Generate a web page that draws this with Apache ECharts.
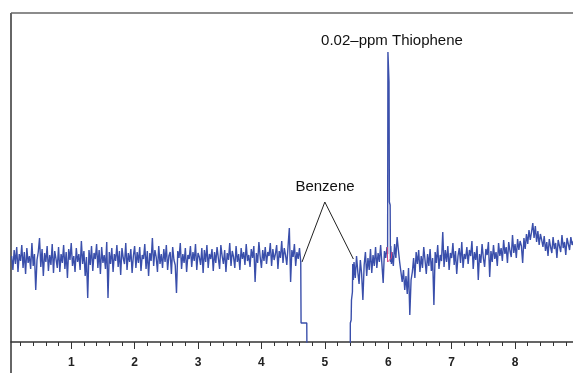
<!DOCTYPE html>
<html>
<head>
<meta charset="utf-8">
<script src="https://cdn.jsdelivr.net/npm/echarts@6/dist/echarts.min.js"></script>
<style>
  html, body { margin: 0; padding: 0; background: #fff; }
  #chart { width: 573px; height: 373px; }
</style>
</head>
<body>
<div id="chart"></div>
<script>
// retention time axis (min), detector response in arbitrary units
var sampleStep = 0.02;

// baseline before benzene, starts at 0.06 min
var baselineAStart = 0.06;
var baselineA = [
  86, 72, 92, 78, 95, 70, 88, 81, 97, 74, 90, 68, 94, 79, 86, 73, 99, 76, 88, 52,
  82, 90, 104, 75, 93, 66, 89, 80, 96, 71, 87, 77, 98, 69, 91, 83, 74, 95, 70, 88,
  79, 97, 73, 90, 64, 93, 82, 99, 76, 86, 70, 94, 80, 88, 72, 101, 78, 91, 66, 85,
  44, 92, 77, 96, 71, 89, 83, 98, 74, 92, 68, 95, 79, 87, 73, 100, 44, 90, 78, 94,
  70, 88, 81, 97, 75, 91, 67, 94, 84, 78, 99, 72, 89, 80, 93, 69, 86, 96, 74, 90,
  79, 95, 71, 87, 83, 98, 73, 91, 66, 89, 81, 104, 76, 92, 85, 70, 96, 78, 88, 74,
  93, 80, 97, 72, 86, 90, 68, 95, 82, 77, 49, 91, 84, 99, 73, 88, 79, 94, 70, 87,
  83, 96, 75, 90, 81, 98, 72, 89, 85, 77, 94, 69, 92, 80, 97, 74, 88, 83, 93, 71,
  90, 79, 95, 84, 73, 97, 86, 78, 92, 70, 89, 82, 99, 76, 91, 85, 74, 96, 80, 88,
  72, 94, 83, 90, 77, 98, 81, 87, 75, 93, 84, 96, 60, 89, 79, 100, 85, 74, 92, 81,
  95, 78, 90, 86, 99, 76, 93, 82, 88, 97, 73, 91, 84, 101, 79, 94, 87, 77, 96, 114,
  60, 92, 85, 98, 76, 90, 83, 94, 80
];

// negative benzene response (goes off scale), [time, response]
var benzeneDip = [
  [4.625, 19], [4.715, 19], [4.72, -40], [5.40, -40], [5.402, 19],
  [5.415, 22], [5.42, 42], [5.435, 50], [5.44, 78], [5.45, 62]
];

var baselineBStart = 5.46;
var baselineB = [
  80, 64, 86, 70, 58, 82, 68, 42, 77, 90, 66, 84, 72, 93, 69, 87, 76, 95, 74, 89,
  80, 97, 78, 59, 91, 84, 95
];

// thiophene peak, [time, response]
var thiophenePeak = [
  [5.99, 88], [5.995, 290], [6.005, 292], [6.012, 260], [6.018, 140],
  [6.03, 137], [6.035, 80], [6.04, 96], [6.05, 78]
];

var baselineCStart = 6.06;
var baselineC = [
  90, 76, 98, 84, 105, 92, 80, 70, 60, 72, 52, 66, 48, 74, 27, 62, 70, 84, 64, 90,
  78, 92, 70, 86, 74, 95, 82, 68, 88, 76, 93, 71, 84, 37, 90, 79, 97, 73, 87, 81,
  110, 75, 92, 80, 96, 72, 89, 84, 99, 77, 91, 68, 86, 94, 79, 100, 74, 88, 83, 95,
  78, 92, 86, 101, 73, 90, 82, 96, 62, 88, 79, 98, 84, 75, 93, 87, 100, 65, 91, 80,
  97, 83, 90, 76, 99, 86, 94, 81, 102, 88, 95, 79, 100, 91, 85, 107, 89, 98, 84, 103,
  92, 101, 96, 79, 104, 93, 108, 98, 112, 102, 110, 119, 104, 116, 100, 111, 97, 108, 102, 95,
  106, 91, 100, 86, 103, 95, 89, 105, 93, 99, 84, 102, 96, 90, 107, 94, 100, 87, 104, 98,
  92, 105, 97, 101, 89, 103, 96
];

// integration baseline under the thiophene peak
var integrationMark = [[5.985, 95], [5.99, 80], [6.05, 84], [6.055, 90]];

// annotation leader lines for benzene
var benzeneLeader = [[4.64, 80], [5.0, 140], [5.45, 83]];

var majorTicks = [1, 2, 3, 4, 5, 6, 7, 8];
var minorTicks = [
  0.2, 0.4, 0.6, 0.8, 1.2, 1.4, 1.6, 1.8, 2.2, 2.4, 2.6, 2.8, 3.2, 3.4, 3.6, 3.8,
  4.2, 4.4, 4.6, 4.8, 5.2, 5.4, 5.6, 5.8, 6.2, 6.4, 6.6, 6.8, 7.2, 7.4, 7.6, 7.8,
  8.2, 8.4, 8.6, 8.8
];

function toPairs(start, values) {
  var out = [];
  for (var i = 0; i < values.length; i++) {
    out.push([+(start + i * sampleStep).toFixed(3), values[i]]);
  }
  return out;
}

var trace = []
  .concat(toPairs(baselineAStart, baselineA))
  .concat(benzeneDip)
  .concat(toPairs(baselineBStart, baselineB))
  .concat(thiophenePeak)
  .concat(toPairs(baselineCStart, baselineC));

var chart = echarts.init(document.getElementById('chart'));

var fontFamily = '"Liberation Sans", Arial, Helvetica, sans-serif';
var xMin = 0.05;
var xMax = 8.914;

var option = {
  animation: false,
  backgroundColor: '#fff',
  grid: { left: 11, right: 0, top: 13, bottom: 31 },
  xAxis: [
    {
      type: 'value',
      min: xMin,
      max: xMax,
      splitLine: { show: false },
      axisLine: { show: true, lineStyle: { color: '#333', width: 1.5 } },
      axisTick: { show: true, customValues: majorTicks, length: 7, lineStyle: { color: '#333', width: 1 } },
      axisLabel: {
        customValues: majorTicks,
        margin: 15,
        color: '#222',
        fontSize: 12,
        fontWeight: 'bold',
        fontFamily: fontFamily
      }
    },
    {
      type: 'value',
      min: xMin,
      max: xMax,
      position: 'bottom',
      splitLine: { show: false },
      axisLine: { show: false },
      axisTick: { show: true, customValues: minorTicks, length: 4, lineStyle: { color: '#333', width: 1 } },
      axisLabel: { show: false }
    }
  ],
  yAxis: {
    type: 'value',
    min: 0,
    max: 329,
    show: false
  },
  series: [
    {
      type: 'line',
      data: trace,
      showSymbol: false,
      clip: true,
      lineStyle: { color: '#3a4fab', width: 1.4 },
      z: 3
    },
    {
      type: 'line',
      data: integrationMark,
      showSymbol: false,
      lineStyle: { color: '#d8457f', width: 1 },
      z: 4
    },
    {
      type: 'line',
      data: benzeneLeader,
      showSymbol: false,
      lineStyle: { color: '#222', width: 1 },
      z: 2
    }
  ],
  graphic: [
    {
      type: 'line',
      shape: { x1: 11, y1: 13, x2: 11, y2: 373 },
      style: { stroke: '#666', lineWidth: 2 }
    },
    {
      type: 'line',
      shape: { x1: 11, y1: 13, x2: 573, y2: 13 },
      style: { stroke: '#666', lineWidth: 1.5 }
    },
    {
      type: 'text',
      x: 392,
      y: 41,
      style: {
        text: '0.02\u2013ppm Thiophene',
        font: '15px ' + fontFamily,
        fill: '#111',
        textAlign: 'center',
        textVerticalAlign: 'middle'
      }
    },
    {
      type: 'text',
      x: 325,
      y: 187,
      style: {
        text: 'Benzene',
        font: '15px ' + fontFamily,
        fill: '#111',
        textAlign: 'center',
        textVerticalAlign: 'middle'
      }
    }
  ]
};

chart.setOption(option);
</script>
</body>
</html>
